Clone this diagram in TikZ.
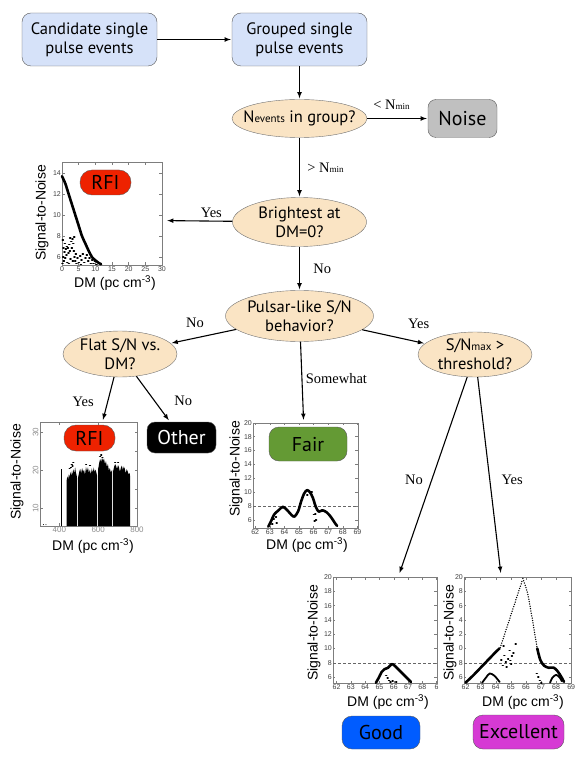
\documentclass[tikz,border=0pt]{standalone}
\usepackage{fontspec}
\setmainfont{PT Sans}
\newfontfamily\edgefont{Liberation Serif}
\newfontfamily\plotfont{Liberation Sans}
\usetikzlibrary{arrows,shapes.geometric}

\definecolor{boxblue}{RGB}{214,226,249}
\definecolor{askfill}{RGB}{250,228,196}
\definecolor{noisegray}{RGB}{192,192,192}
\definecolor{rfired}{RGB}{238,34,0}
\definecolor{fairgreen}{RGB}{100,154,52}
\definecolor{goodblue}{RGB}{0,92,255}
\definecolor{excmagenta}{RGB}{214,58,212}
\definecolor{axisgray}{RGB}{125,125,125}

\begin{document}
\begin{tikzpicture}[x=1pt,y=-1pt,shorten >=1pt,node distance=2cm,auto,>=latex]
        \tikzstyle{inbox}=[draw=black!65,fill=boxblue,rounded corners=9pt,minimum width=135pt,minimum height=53pt,align=center,inner sep=0pt,font=\fontsize{16.5}{19}\selectfont]
        \tikzstyle{ask}=[ellipse,draw=black!55,fill=askfill,align=center,inner xsep=-16pt,inner ysep=-10pt,font=\fontsize{16.5}{19}\selectfont]
        \tikzstyle{verdict}=[draw=black!65,rounded corners=8pt,inner sep=0pt,font=\fontsize{20}{22}\selectfont]
        \tikzstyle{plotframe}=[draw=axisgray,line width=.5pt,inner sep=0pt]
        \tikzstyle{lbl}=[font=\edgefont\fontsize{14.5}{16}\selectfont]
        \tikzstyle{axlbl}=[inner sep=0pt,font=\plotfont\fontsize{14}{16}\selectfont]
        \tikzstyle{ticklbl}=[inner sep=1pt,text=black!75,font=\plotfont\fontsize{7}{8}\selectfont]
        \tikzstyle{tickmark}=[draw=axisgray,line width=.4pt]
        \tikzstyle{band}=[line width=2.6pt,line cap=round,line join=round]
        \tikzstyle{speck}=[line width=1.7pt,line cap=round]
        \tikzstyle{cutline}=[densely dashed,draw=black!60,line width=.4pt]
        \tikzstyle{dots}=[line width=1.5pt,line cap=round,dash pattern=on 0pt off 2.4pt]

        \useasboundingbox (0,0) rectangle (581,775);

        % flow chart
        \node[inbox]  (B01) at (89.5,39.5)                      {Candidate single\\pulse events};
        \node[inbox]  (B02) [right of=B01,node distance=210pt] {Grouped single\\pulse events};
        \node[ask,minimum width=135pt,minimum height=38pt] (D01) [below of=B02,node distance=79pt]    {N{\fontsize{11}{11}\selectfont events} in group?};
        \node[verdict,fill=noisegray,minimum width=69pt,minimum height=38pt] (L01) [right of=D01,node distance=163pt] {Noise};
        \node[ask,minimum width=134pt,minimum height=49pt] (D02) [below of=D01,node distance=103.5pt] {Brightest at\\DM=0?};
        \node[ask,minimum width=148pt,minimum height=51pt] (D03) [below of=D02,node distance=94pt]    {Pulsar-like S/N\\behavior?};
        \node[ask,minimum width=114pt,minimum height=46pt] (D04) at (120,354)    {Flat S/N vs.\\DM?};
        \node[ask,minimum width=114pt,minimum height=45pt] (D05) at (475,354.5)  {S/N{\fontsize{11}{11}\selectfont max} >\\threshold?};

        % RFI, bright at DM=0
        \node[plotframe,minimum width=100pt,minimum height=103pt] (P01) at (112,213.5) {};
        \begin{scope}[shift={(62,265)},xscale=3.333,yscale=-10.5,shift={(0,-5.25)}]
          \foreach \t in {0,5,...,30}
            \draw[tickmark] (\t,5.25) -- (\t,5.5) (\t,15.05) -- (\t,14.8)
              (\t,5.25) node[ticklbl,below] (a1\t) {\t};
          \foreach \t in {6,8,...,14}
            \draw[tickmark] (0,\t) -- (0.75,\t) (30,\t) -- (29.25,\t)
              (0,\t) node[ticklbl,left] (b1\t) {\t};
          \draw[band] plot[smooth] coordinates {(0,13.7) (1,13) (2,12) (3,11) (4,10) (5,9) (6,8) (7,7.3) (8,6.6) (9,6) (10,5.7) (11,5.45) (12,5.28)};
          \foreach \x/\y in {0.3/5.4,0.5/6.0,0.7/5.6,0.9/6.5,1.1/5.9,1.3/6.8,1.5/6.2,1.7/5.5,1.9/6.9,2.1/6.4,2.3/7.2,2.5/6.6,2.7/5.8,2.9/7.5,3.1/6.9,3.3/7.7,3.5/7.3,3.7/6.6,3.9/6.0,4.1/5.6,4.3/6.3,4.5/5.4,4.8/5.9,5.2/5.5,5.6/6.1,6.0/5.7,6.4/6.3,6.8/5.5,7.2/5.9,7.6/6.2,8.0/5.6,8.4/5.9,8.8/5.4,9.2/5.7,9.6/5.4,10.0/5.6,10.5/5.3,1.0/7.3,0.4/7.6,2.2/5.4,3.4/5.6,5.8/5.3,0.6/6.9,1.6/7.0,2.6/7.8,3.8/7.9}
            \draw[speck] (\x,\y) -- ++(0.01,0);
        \end{scope}
        \node[axlbl,rotate=90] (Y01) at (42,213)  {Signal-to-Noise};
        \node[axlbl]           (X01) at (115,283) {DM (pc cm\textsuperscript{-3})};
        \node[verdict,fill=rfired,rounded corners=12pt,minimum width=51pt,minimum height=25pt] (L02) at (105.5,182.5) {RFI};

        % RFI, flat over DM
        \node[plotframe,minimum width=97pt,minimum height=104pt] (P02) at (88.5,474) {};
        \begin{scope}[shift={(40,526)},xscale=0.194,yscale=-3.8,shift={(-300,-5.34)}]
          \foreach \t in {400,600,800}
            \draw[tickmark] (\t,5.34) -- (\t,6) (\t,32.7) -- (\t,32)
              (\t,5.34) node[ticklbl,below,text=black!45,font=\plotfont\fontsize{8}{9}\selectfont] (a2\t) {\t};
          \foreach \t in {10,20,30}
            \draw[tickmark] (300,\t) -- (313,\t)
              (298,\t) node[ticklbl,rotate=90,anchor=south,text=black!45,font=\plotfont\fontsize{8}{9}\selectfont] (b2\t) {\t};
          \foreach \t in {10,15,20,25,30}
            \draw[tickmark] (800,\t) -- (787,\t);
          \draw[dots,line width=1pt] (318,5.7) -- (340,5.7);
          \draw[line width=1.2pt] (412,5.34) -- (412,20.6);
          \fill (437,5.34) -- (437,17.2) -- (441,18.4) -- (445,17.6) -- (449,19.0) -- (453,18.1) -- (457,19.6) -- (461,18.4) -- (465,19.9) -- (469,18.8) -- (473,20.3) -- (477,19.2) -- (481,20.8) -- (485,19.4) -- (489,18.6) -- (491,17.9) -- (491,5.34) -- cycle;
          \fill (497,5.34) -- (497,18.3) -- (502,19.5) -- (507,20.4) -- (512,19.2) -- (517,20.6) -- (522,19.6) -- (527,20.1) -- (532,18.8) -- (537,20.9) -- (542,19.7) -- (547,20.8) -- (552,19.3) -- (557,20.2) -- (562,18.9) -- (567,20.5) -- (572,19.4) -- (577,20.7) -- (582,19.5) -- (587,20.2) -- (594,18.6) -- (594,5.34) -- cycle;
          \fill (600,5.34) -- (600,20.4) -- (605,21.9) -- (610,23.0) -- (615,22.2) -- (620,23.3) -- (625,22.5) -- (630,23.1) -- (635,21.6) -- (640,22.4) -- (645,20.8) -- (650,21.7) -- (655,19.9) -- (660,20.6) -- (665,19.4) -- (672,20.1) -- (672,5.34) -- cycle;
          \fill (677,5.34) -- (677,19.8) -- (682,20.9) -- (687,21.6) -- (692,21.2) -- (697,20.3) -- (702,21.4) -- (707,20.8) -- (712,19.6) -- (717,20.7) -- (722,21.2) -- (727,20.1) -- (732,21.0) -- (737,20.4) -- (742,19.2) -- (747,20.3) -- (752,19.7) -- (757,18.9) -- (762,19.3) -- (765,18.2) -- (765,5.34) -- cycle;
          \foreach \x/\y in {462/20.8,466/21.6,470/21.1,474/22.0,612/23.7,618/24.0,624/23.4,540/21.5,690/22.0,705/22.1,455/20.4,560/21.3}
            \draw[speck,line width=1.3pt] (\x,\y) -- ++(0.5,0);
        \end{scope}
        \node[axlbl,rotate=90] (Y02) at (17,472) {Signal-to-Noise};
        \node[axlbl]           (X02) at (93,546) {DM (pc cm\textsuperscript{-3})};
        \node[verdict,fill=rfired,rounded corners=12pt,minimum width=51pt,minimum height=26pt] (L03) at (89.5,438) {RFI};
        \node[verdict,fill=black,text=white,minimum width=69pt,minimum height=31pt] (L04) at (181.5,437.5) {Other};

        % Fair
        \node[plotframe,minimum width=105pt,minimum height=105pt] (P03) at (305.5,475.5) {};
        \begin{scope}[shift={(253,528)},xscale=14.6,yscale=-6.95,shift={(-61.85,-4.85)}]
          \foreach \t in {62,...,69}
            \draw[tickmark] (\t,4.85) -- (\t,5.2) (\t,19.96) -- (\t,19.6)
              (\t,4.85) node[ticklbl,below] (a3\t) {\t};
          \foreach \t in {6,8,...,20}
            \draw[tickmark] (61.85,\t) -- (62.02,\t) (69.04,\t) -- (68.87,\t)
              (61.85,\t) node[ticklbl,left] (b3\t) {\t};
          \draw[cutline] (61.85,8) -- (69.04,8);
          \draw[band] plot[smooth] coordinates {(62.9,5.05) (63.1,5.9) (63.3,6.8) (63.6,7.4) (63.9,7.9) (64.2,7.4) (64.5,6.7) (64.7,6.5) (64.95,7.3) (65.15,8.7) (65.35,9.8) (65.55,10.3) (65.75,10.0) (65.95,9.2) (66.15,7.9) (66.35,7.2) (66.6,7.4) (66.9,7.1) (67.2,6.4) (67.45,5.6) (67.65,5.05)};
          \foreach \x/\y in {63.3/6.1,63.45/6.4,63.5/5.6,63.2/5.4,66.15/6.9,66.05/6.8,66.2/6.0,66.1/5.9,65.6/9.6,65.9/10.0}
            \draw[speck] (\x,\y) -- ++(0.01,0);
        \end{scope}
        \node[axlbl,rotate=90] (Y03) at (236,469) {Signal-to-Noise};
        \node[axlbl]           (X03) at (307,545) {DM (pc cm\textsuperscript{-3})};
        \node[verdict,fill=fairgreen,rounded corners=10pt,minimum width=78pt,minimum height=34pt] (L05) at (308,444) {Fair};

        % Good
        \node[plotframe,minimum width=104pt,minimum height=106pt] (P04) at (385,630) {};
        \begin{scope}[shift={(333,683)},xscale=14.3,yscale=-7.14,shift={(-61.75,-5.16)}]
          \foreach \t/\s in {62/62,63/63,64/64,65/65,66/66,67/67,68/68,69/6}
            \draw[tickmark] (\t,5.16) -- (\t,5.5) (\t,20) -- (\t,19.65)
              (\t,5.16) node[ticklbl,below] (a4\t) {\s};
          \foreach \t in {6,8,...,20}
            \draw[tickmark] (61.75,\t) -- (61.92,\t) (69,\t) -- (68.83,\t)
              (61.75,\t) node[ticklbl,left] (b4\t) {\t};
          \draw[cutline] (61.75,8) -- (69,8);
          \draw[band] plot[smooth] coordinates {(64.75,5.2) (64.95,5.9) (65.15,6.7) (65.35,7.1) (65.6,7.3) (65.85,7.8) (66.05,7.6) (66.3,7.1) (66.55,6.6) (66.8,6.1) (67.05,5.6) (67.25,5.2)};
          \foreach \x/\y in {65.6/5.9,65.7/5.5,65.8/5.3,65.95/5.4,66.2/5.3,65.5/6.2}
            \draw[speck] (\x,\y) -- ++(0.01,0);
        \end{scope}
        \node[axlbl,rotate=90] (Y04) at (314,633) {Signal-to-Noise};
        \node[axlbl]           (X04) at (388,702) {DM (pc cm\textsuperscript{-3})};
        \node[verdict,fill=goodblue,rounded corners=10pt,minimum width=78pt,minimum height=33pt] (L06) at (381,732.5) {Good};

        % Excellent
        \node[plotframe,minimum width=107pt,minimum height=106pt] (P05) at (517.5,630) {};
        \begin{scope}[shift={(464,683)},xscale=15.1,yscale=-7.14,shift={(-61.9,-5.16)}]
          \foreach \t in {62,...,69}
            \draw[tickmark] (\t,5.16) -- (\t,5.5) (\t,20) -- (\t,19.65)
              (\t,5.16) node[ticklbl,below] (a5\t) {\t};
          \foreach \t/\s in {6/6,8/8,10/0,12/2,14/4,16/6,18/8,20/20}
            \draw[tickmark] (61.9,\t) -- (62.06,\t) (68.99,\t) -- (68.83,\t)
              (61.9,\t) node[ticklbl,left] (b5\t) {\s};
          \draw[cutline] (61.9,8) -- (68.99,8);
          \draw[band] (62.0,5.2) -- (62.5,6.2) -- (63.0,7.3) -- (63.5,8.4) -- (64.0,9.5) -- (64.3,10.1);
          \draw[dots] (64.3,10.1) -- (65.8,19.8);
          \draw[dots] plot[smooth] coordinates {(65.8,19.8) (66.1,17.8) (66.35,15) (66.55,12.5) (66.75,10)};
          \draw[band] plot[smooth] coordinates {(66.75,10) (66.95,8.4) (67.2,7.6) (67.5,7.3) (67.85,7.3) (68.1,6.8) (68.35,6.0) (68.55,5.2)};
          \draw[band,line width=1.8pt] plot[smooth] coordinates {(67.6,5.2) (67.75,5.9) (68.0,6.3) (68.25,5.9) (68.4,5.3)};
          \draw[band,line width=1.8pt] plot[smooth] coordinates {(63.1,5.2) (63.35,5.9) (63.6,6.5) (63.9,6.2) (64.15,5.6) (64.3,5.2)};
          \foreach \x/\y in {64.5/7.6,64.7/8.1,64.85/8.5,65.0/8.3,65.1/8.9,65.2/9.4,64.95/9.7,64.6/9.0,65.35/10.6,64.4/8.4,64.75/7.4,65.05/7.8,64.55/10.3,66.75/6.5,66.85/6.0,66.95/5.5,67.05/5.2}
            \draw[speck] (\x,\y) -- ++(0.01,0);
        \end{scope}
        \node[axlbl,rotate=90] (Y05) at (450,633) {Signal-to-Noise};
        \node[axlbl]           (X05) at (523,702) {DM (pc cm\textsuperscript{-3})};
        \node[verdict,fill=excmagenta,rounded corners=10pt,minimum width=91pt,minimum height=34pt] (L07) at (518.5,732) {Excellent};

        \path[->,line width=1.1pt]
                  (B01) edge                                                        (B02)
                  (B02) edge                                                        (D01)
                  (D01) edge node[lbl,above=5pt,pos=.4]  {< N{\fontsize{9}{9}\selectfont min}} (L01)
                        edge node[lbl,right=4pt]         {> N{\fontsize{9}{9}\selectfont min}} (D02)
                  (D02) edge [shorten >=5pt] node[lbl,above,pos=.3] {Yes}          (P01.-8)
                        edge node[lbl,right=10pt]        {No}                       (D03)
                  (D03) edge node[lbl,above=7pt,pos=.63] {No}                       (D04)
                        edge node[lbl,above=10pt,pos=.9] {Yes}                      (D05)
                        edge [shorten >=3pt] node[lbl,right,pos=.45] {Somewhat}     (P03.92)
                  (D04) edge [shorten >=2pt] node[lbl,left=10pt,pos=.56] {Yes}     (P02.75)
                        edge [shorten >=2pt] node[lbl,right=16pt,pos=.54] {No}     (L04)
                  (D05) edge [shorten >=4pt] node[lbl,left=5pt,pos=.515] {No}      (P04.76)
                        edge [shorten >=4pt] node[lbl,right=8pt,pos=.515] {Yes}    (P05.107);
\end{tikzpicture}
\end{document}
